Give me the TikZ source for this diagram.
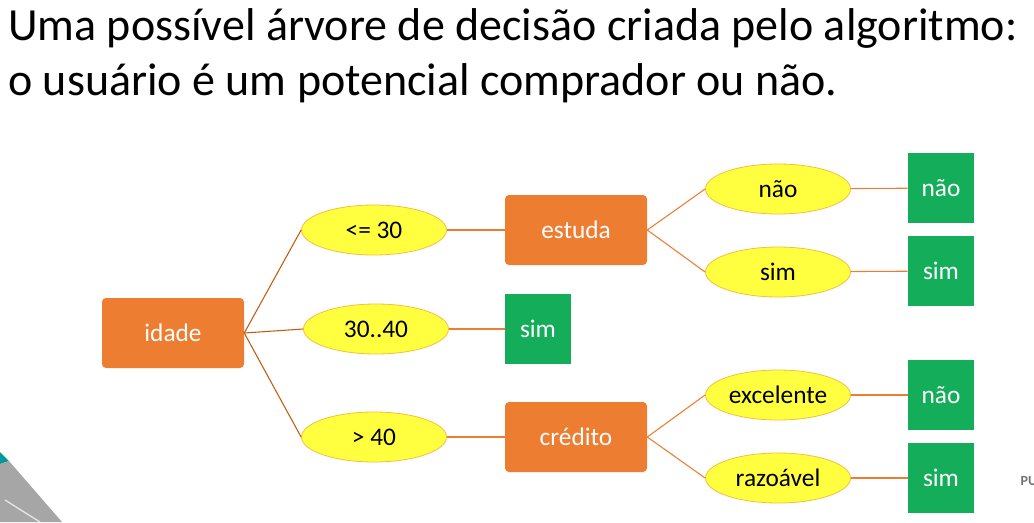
\documentclass[tikz,border=0pt]{standalone}
\usepackage{fontspec}
\setmainfont{Carlito}
\usetikzlibrary{shapes.geometric}
\definecolor{laranja}{RGB}{237,125,49}
\definecolor{marrom}{RGB}{197,90,17}
\definecolor{amarelo}{RGB}{255,255,64}
\definecolor{bordaam}{RGB}{244,190,60}
\definecolor{verde}{RGB}{20,174,90}
\begin{document}
\begin{tikzpicture}[x=0.75pt, y=-0.75pt,
        decisao/.style={rectangle, fill=laranja, rounded corners=3pt, minimum width=106.5pt, minimum height=52.5pt, text=white, font=\fontsize{19}{21}\selectfont},
        ramo/.style={ellipse, fill=amarelo, draw=bordaam, line width=0.6pt, minimum width=108.75pt, minimum height=37.5pt, inner sep=0pt, font=\fontsize{19}{21}\selectfont},
        folha/.style={rectangle, fill=verde, minimum width=49.5pt, minimum height=52.5pt, text=white, font=\fontsize{19}{21}\selectfont},
        ligacao/.style={draw=laranja, line width=0.8pt},
        raiz/.style={draw=marrom, line width=0.8pt}
    ]
    \useasboundingbox (0,0) rectangle (1034,522);
    % title
    \node[anchor=base west, inner sep=0pt, font=\fontsize{34.5}{40}\selectfont] (titulo1) at (8,40) {Uma possível árvore de decisão criada pelo algoritmo:};
    \node[anchor=base west, inner sep=0pt, font=\fontsize{34.5}{40}\selectfont] (titulo2) at (8,95) {o usuário é um potencial comprador ou não.};
    % slide decoration
    \fill[teal!80!cyan] (0,452) -- (9,461) -- (0,464) -- cycle;
    \fill[gray!70] (0,464) -- (9,461) -- (62,522) -- (0,522) -- cycle;
    \draw[white!80!gray, line width=1pt] (5,500) -- (40,522);
    \node[anchor=west, text=gray!90!black, font=\fontsize{10.5}{12}\selectfont\bfseries] (marca) at (1016,481) {PU};
    % nodes
    \node[decisao] (idade) at (173,333) {idade};
    \node[ramo] (ate30) at (374,230) {<= 30};
    \node[ramo] (entre) at (376,329) {30..40};
    \node[ramo] (acima40) at (374,437) {> 40};
    \node[decisao] (estuda) at (576,230) {estuda};
    \node[folha] (sim1) at (538,329) {sim};
    \node[decisao] (credito) at (576,437) {crédito};
    \node[ramo] (nao) at (778,189) {não};
    \node[ramo] (sim) at (778,272) {sim};
    \node[ramo] (excelente) at (778,395) {excelente};
    \node[ramo] (razoavel) at (778,478) {razoável};
    \node[folha] (fnao1) at (941,188) {não};
    \node[folha] (fsim1) at (941,271) {sim};
    \node[folha] (fnao2) at (941,395) {não};
    \node[folha] (fsim2) at (941,478) {sim};
    % connectors
    \foreach \r in {ate30, entre, acima40}
        \draw[raiz] (idade.east) -- (\r.west);
    \draw[ligacao] (ate30) -- (estuda);
    \draw[ligacao] (entre) -- (sim1);
    \draw[ligacao] (acima40) -- (credito);
    \draw[ligacao] (estuda.east) -- (nao.west);
    \draw[ligacao] (estuda.east) -- (sim.west);
    \draw[ligacao] (credito.east) -- (excelente.west);
    \draw[ligacao] (credito.east) -- (razoavel.west);
    \draw[ligacao] (nao) -- (fnao1);
    \draw[ligacao] (sim) -- (fsim1);
    \draw[ligacao] (excelente) -- (fnao2);
    \draw[ligacao] (razoavel) -- (fsim2);
\end{tikzpicture}
\end{document}
